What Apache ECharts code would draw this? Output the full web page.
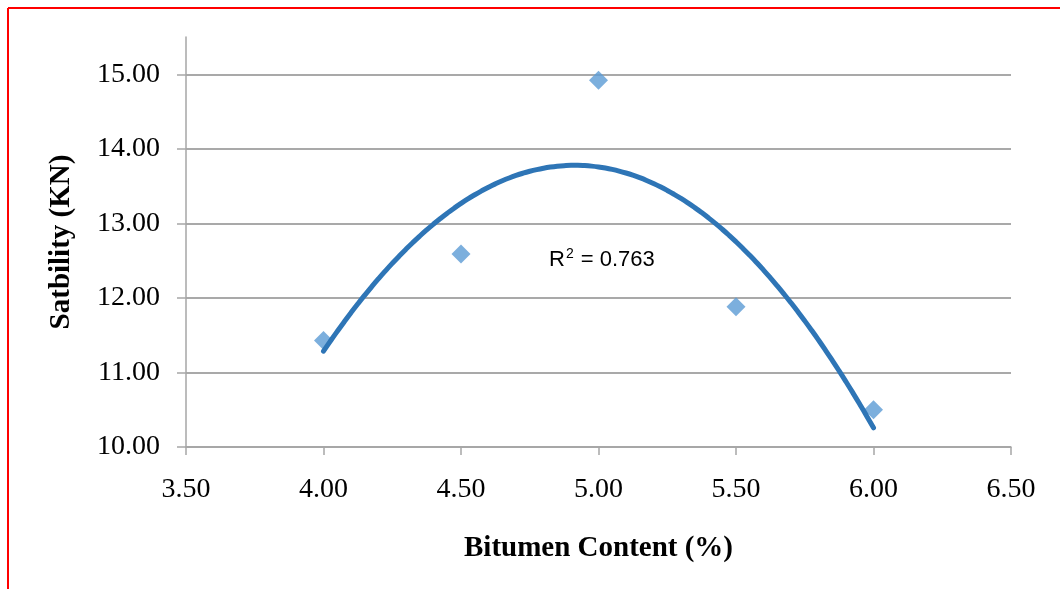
<!DOCTYPE html>
<html>
<head>
<meta charset="utf-8">
<title>Stability vs Bitumen Content</title>
<script src="https://cdn.jsdelivr.net/npm/echarts@6/dist/echarts.min.js"></script>
<style>
  html, body { margin: 0; padding: 0; background: #ffffff; }
  #chart { width: 1060px; height: 589px; }
</style>
</head>
<body>
<div id="chart"></div>
<script>
// Marshall test results: stability against bitumen content
const bitumenContent = [4.0, 4.5, 5.0, 5.5, 6.0];
const stability = [11.43, 12.59, 14.92, 11.88, 10.50];
const xTicks = [3.5, 4.0, 4.5, 5.0, 5.5, 6.0, 6.5];
const yTicks = [10, 11, 12, 13, 14, 15];
const rSquaredValue = '0.763';

// Second-order polynomial least-squares trendline over the measured points
function quadFit(xs, ys) {
  let n = xs.length, s1 = 0, s2 = 0, s3 = 0, s4 = 0, t0 = 0, t1 = 0, t2 = 0;
  for (let i = 0; i < n; i++) {
    const x = xs[i], y = ys[i];
    s1 += x; s2 += x * x; s3 += x * x * x; s4 += x * x * x * x;
    t0 += y; t1 += x * y; t2 += x * x * y;
  }
  // Solve normal equations (3x3) with Cramer's rule
  const M = [[n, s1, s2], [s1, s2, s3], [s2, s3, s4]];
  const R = [t0, t1, t2];
  const det = m => m[0][0] * (m[1][1] * m[2][2] - m[1][2] * m[2][1])
    - m[0][1] * (m[1][0] * m[2][2] - m[1][2] * m[2][0])
    + m[0][2] * (m[1][0] * m[2][1] - m[1][1] * m[2][0]);
  const D = det(M);
  const coef = [0, 1, 2].map(c => det(M.map((row, r) => row.map((v, k) => k === c ? R[r] : v))) / D);
  return x => coef[0] + coef[1] * x + coef[2] * x * x;
}
const trend = quadFit(bitumenContent, stability);
const xFirst = bitumenContent[0], xLast = bitumenContent[bitumenContent.length - 1];
const trendPoints = [];
for (let i = 0; i <= 80; i++) {
  const x = xFirst + (xLast - xFirst) * i / 80;
  trendPoints.push([x, trend(x)]);
}

const chart = echarts.init(document.getElementById('chart'), null, { renderer: 'canvas' });
const serif = '"Liberation Serif", "Times New Roman", serif';
const sans = '"Liberation Sans", Arial, sans-serif';

chart.setOption({
  animation: false,
  backgroundColor: '#ffffff',
  grid: { left: 186, right: 49, top: 37, bottom: 142, containLabel: false },
  xAxis: {
    type: 'value',
    min: xTicks[0],
    max: xTicks[xTicks.length - 1],
    interval: 0.5,
    name: 'Bitumen Content (%)',
    nameLocation: 'middle',
    nameGap: 87,
    nameTextStyle: { fontFamily: serif, fontSize: 29, fontWeight: 'bold', color: '#000' },
    axisLine: { show: true, onZero: false, lineStyle: { color: '#a6a6a6', width: 1.5 } },
    axisTick: { show: true, inside: false, length: 8, lineStyle: { color: '#a6a6a6', width: 1.5 } },
    axisLabel: { margin: 29, fontFamily: serif, fontSize: 28, color: '#000',
      formatter: v => v.toFixed(2) },
    splitLine: { show: false }
  },
  yAxis: {
    type: 'value',
    min: yTicks[0],
    max: 15.5,
    interval: 1,
    name: 'Satbility (KN)',
    nameLocation: 'middle',
    nameGap: 110,
    nameTextStyle: { fontFamily: serif, fontSize: 29, fontWeight: 'bold', color: '#000' },
    axisLine: { show: true, onZero: false, lineStyle: { color: '#a6a6a6', width: 1.5 } },
    axisTick: { show: true, inside: false, length: 9, lineStyle: { color: '#a6a6a6', width: 1.5 } },
    axisLabel: { margin: 26, fontFamily: serif, fontSize: 28, color: '#000',
      showMaxLabel: false,
      formatter: v => yTicks.indexOf(v) >= 0 ? v.toFixed(2) : '' },
    splitLine: { show: true, showMaxLine: false, lineStyle: { color: '#8c8c8c', width: 1.5 } }
  },
  series: [
    {
      name: 'Stability',
      type: 'scatter',
      data: bitumenContent.map((x, i) => [x, stability[i]]),
      symbol: 'diamond',
      symbolSize: 19,
      itemStyle: { color: '#5B9BD5' },
      z: 2
    },
    {
      name: 'Poly. (Stability)',
      type: 'line',
      data: trendPoints,
      showSymbol: false,
      smooth: true,
      lineStyle: { color: '#2E75B6', width: 5, cap: 'round' },
      z: 3
    }
  ],
  graphic: [
    { type: 'text', left: 549, top: 247, z: 10,
      style: {
        text: '{r|R}{s|2}{r| = ' + rSquaredValue + '}',
        rich: {
          r: { fontFamily: sans, fontSize: 22, fill: '#000', lineHeight: 26 },
          s: { fontFamily: sans, fontSize: 14, fill: '#000', lineHeight: 26, verticalAlign: 'top', padding: [0, 1, 0, 1] }
        }
      } },
    { type: 'line', shape: { x1: 8, y1: 8, x2: 1060, y2: 8 }, style: { stroke: '#ff0000', lineWidth: 2 } },
    { type: 'line', shape: { x1: 8, y1: 8, x2: 8, y2: 589 }, style: { stroke: '#ff0000', lineWidth: 2 } }
  ]
});
</script>
</body>
</html>
